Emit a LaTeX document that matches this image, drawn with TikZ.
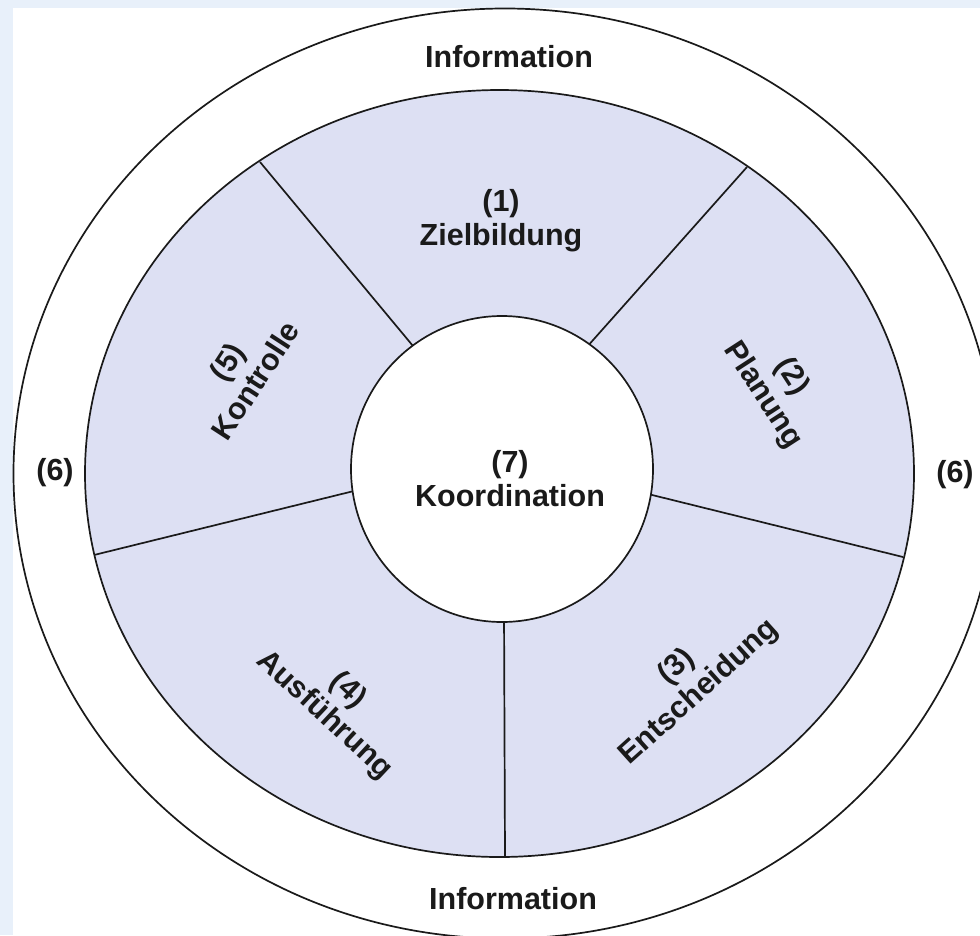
\documentclass[tikz,border=0pt]{standalone}
\usepackage{fontspec}
\setmainfont{Liberation Sans}
\usetikzlibrary{calc}
\definecolor{pagebg}{HTML}{E8F0FA}
\definecolor{ringfill}{HTML}{DDE0F3}
\definecolor{ink}{HTML}{1A1A1A}
\begin{document}
\begin{tikzpicture}[x=1pt,y=-1pt,
  outline/.style={line width=1.7pt, draw=ink},
  lbl/.style={font=\bfseries\fontsize{30.5}{34}\selectfont, align=center,
    inner sep=0pt, text=ink}]
% page background and white panel
\fill[pagebg] (0,0) rectangle (980,935);
\useasboundingbox (0,0) rectangle (980,935);
\fill[white] (13,8) rectangle (980,935);

% outer information ring, cut by the panel edges
\begin{scope}
  \clip (0,0) rectangle (980,935);
  \draw[outline] (505,473.5) ellipse [x radius=491.5, y radius=465];
\end{scope}

% shaded ring of the five phases
\fill[ringfill] (499.5,473.5) ellipse [x radius=414.5, y radius=383.5];

% divider end points
\coordinate (ulOut) at (260,162);  \coordinate (ulIn) at (418,352);
\coordinate (urOut) at (747,167);  \coordinate (urIn) at (586,348);
\coordinate (rOut)  at (903,557);  \coordinate (rIn)  at (640,492);
\coordinate (bOut)  at (505,857);  \coordinate (bIn)  at (504,610);
\coordinate (lOut)  at (94,555);   \coordinate (lIn)  at (362,489);

\draw[outline] (ulOut) -- (ulIn);
\draw[outline] (urOut) -- (urIn);
\draw[outline] (rOut) -- (rIn);
\draw[outline] (bOut) -- (bIn);
\draw[outline] (lOut) -- (lIn);

\draw[outline] (499.5,473.5) ellipse [x radius=414.5, y radius=383.5];

% central coordination circle
\filldraw[outline, fill=white] (502,469) ellipse [x radius=151, y radius=153];

% labels
\node[lbl] (infoTop) at (509,57) {Information};
\node[lbl] (infoBot) at (513,899) {Information};
\node[lbl] (sixL) at (55,473) {(6)};
\node[lbl] (sixR) at (955,475) {(6)};
\node[lbl] (ziel) at (501,221) {(1)\\Zielbildung};
\node[lbl] (koord) at (510,479) {(7)\\Koordination};
\node[lbl, rotate=57] (kontr) at (241,371) {(5)\\Kontrolle};
\node[lbl, rotate=-57] (plan) at (777,386) {(2)\\Planung};
\node[lbl, rotate=42] (entsch) at (688,680) {(3)\\Entscheidung};
\node[lbl, rotate=-43] (ausf) at (336,703) {(4)\\Ausführung};
\end{tikzpicture}
\end{document}
